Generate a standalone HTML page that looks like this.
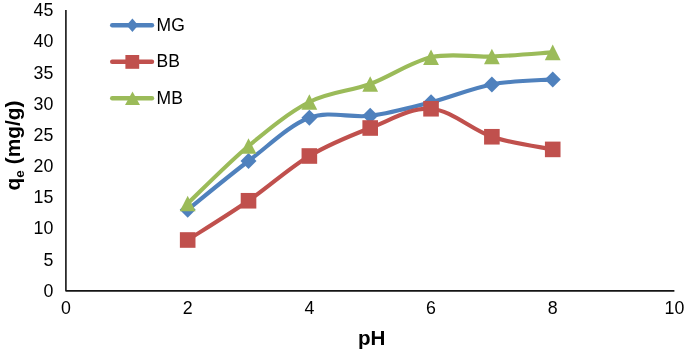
<!DOCTYPE html>
<html><head><meta charset="utf-8"><title>Chart</title>
<style>html,body{margin:0;padding:0;background:#fff}svg{display:block}</style>
</head><body>
<svg width="685" height="352" viewBox="0 0 685 352">
<rect width="685" height="352" fill="#fff"/>
<path d="M187.68,209.75 C197.82,201.62 228.24,176.33 248.52,161.00 C268.80,145.67 289.08,125.29 309.36,117.75 C329.64,110.21 349.92,118.34 370.20,115.75 C390.48,113.16 410.76,107.42 431.04,102.20 C451.32,96.98 471.60,88.20 491.88,84.40 C512.16,80.60 542.58,80.23 552.72,79.40" fill="none" stroke="#4f81bd" stroke-width="4.1" stroke-linecap="round" stroke-linejoin="round"/>
<g fill="#4f81bd"><path d="M187.68,201.75 l8,8 l-8,8 l-8,-8 z"/><path d="M248.52,153.00 l8,8 l-8,8 l-8,-8 z"/><path d="M309.36,109.75 l8,8 l-8,8 l-8,-8 z"/><path d="M370.20,107.75 l8,8 l-8,8 l-8,-8 z"/><path d="M431.04,94.20 l8,8 l-8,8 l-8,-8 z"/><path d="M491.88,76.40 l8,8 l-8,8 l-8,-8 z"/><path d="M552.72,71.40 l8,8 l-8,8 l-8,-8 z"/></g>
<path d="M187.68,240.00 C197.82,233.46 228.24,214.75 248.52,200.75 C268.80,186.75 289.08,168.12 309.36,156.00 C329.64,143.88 349.92,135.88 370.20,128.00 C390.48,120.12 410.76,107.29 431.04,108.75 C451.32,110.21 471.60,129.97 491.88,136.75 C512.16,143.53 542.58,147.29 552.72,149.40" fill="none" stroke="#c0504d" stroke-width="4.1" stroke-linecap="round" stroke-linejoin="round"/>
<g fill="#c0504d"><rect x="179.88" y="232.20" width="15.6" height="15.6"/><rect x="240.72" y="192.95" width="15.6" height="15.6"/><rect x="301.56" y="148.20" width="15.6" height="15.6"/><rect x="362.40" y="120.20" width="15.6" height="15.6"/><rect x="423.24" y="100.95" width="15.6" height="15.6"/><rect x="484.08" y="128.95" width="15.6" height="15.6"/><rect x="544.92" y="141.60" width="15.6" height="15.6"/></g>
<path d="M187.68,203.50 C197.82,193.92 228.24,162.92 248.52,146.00 C268.80,129.08 289.08,112.33 309.36,102.00 C329.64,91.67 349.92,91.46 370.20,84.00 C390.48,76.54 410.76,61.83 431.04,57.25 C451.32,52.67 471.60,57.31 491.88,56.50 C512.16,55.69 542.58,53.08 552.72,52.40" fill="none" stroke="#9bbb59" stroke-width="4.1" stroke-linecap="round" stroke-linejoin="round"/>
<g fill="#9bbb59"><path d="M187.68,195.70 l7.9,15.6 h-15.8 z"/><path d="M248.52,138.20 l7.9,15.6 h-15.8 z"/><path d="M309.36,94.20 l7.9,15.6 h-15.8 z"/><path d="M370.20,76.20 l7.9,15.6 h-15.8 z"/><path d="M431.04,49.45 l7.9,15.6 h-15.8 z"/><path d="M491.88,48.70 l7.9,15.6 h-15.8 z"/><path d="M552.72,44.60 l7.9,15.6 h-15.8 z"/></g>
<path d="M65.9,10.1 V290.85 H674.4" fill="none" stroke="#141414" stroke-width="1.6" stroke-linejoin="round"/>
<g font-family="'Liberation Sans', Arial, sans-serif" font-size="17.8" fill="#000">
<text x="53.4" y="296.70" text-anchor="end">0</text>
<text x="53.4" y="265.53" text-anchor="end">5</text>
<text x="53.4" y="234.36" text-anchor="end">10</text>
<text x="53.4" y="203.19" text-anchor="end">15</text>
<text x="53.4" y="172.02" text-anchor="end">20</text>
<text x="53.4" y="140.85" text-anchor="end">25</text>
<text x="53.4" y="109.68" text-anchor="end">30</text>
<text x="53.4" y="78.51" text-anchor="end">35</text>
<text x="53.4" y="47.34" text-anchor="end">40</text>
<text x="53.4" y="16.17" text-anchor="end">45</text>
<text x="66.00" y="313.6" text-anchor="middle">0</text>
<text x="187.68" y="313.6" text-anchor="middle">2</text>
<text x="309.36" y="313.6" text-anchor="middle">4</text>
<text x="431.04" y="313.6" text-anchor="middle">6</text>
<text x="552.72" y="313.6" text-anchor="middle">8</text>
<text x="674.40" y="313.6" text-anchor="middle">10</text>
<text x="156.6" y="30.80" font-size="17.5">MG</text>
<text x="156.6" y="67.40" font-size="17.5">BB</text>
<text x="156.6" y="103.90" font-size="17.5">MB</text>
</g>
<path d="M112.2,25.20 H152" stroke="#4f81bd" stroke-width="4.4" stroke-linecap="round"/>
<path d="M112.2,61.80 H152" stroke="#c0504d" stroke-width="4.4" stroke-linecap="round"/>
<path d="M112.2,98.30 H152" stroke="#9bbb59" stroke-width="4.4" stroke-linecap="round"/>
<path d="M132.4,18.5 l5.8,6.7 l-5.8,6.9 l-5.8,-6.9 z" fill="#4f81bd"/>
<rect x="125.4" y="55" width="13.8" height="13.8" fill="#c0504d"/>
<path d="M132.5,91.6 l7.5,13.4 h-15 z" fill="#9bbb59"/>
<text x="371.7" y="344.6" text-anchor="middle" font-family="'Liberation Sans', Arial, sans-serif" font-weight="bold" font-size="20.6" fill="#000">pH</text>
<text transform="translate(20.2,190.4) rotate(-90)" font-family="'Liberation Sans', Arial, sans-serif" font-weight="bold" font-size="20.9" fill="#000">q<tspan font-size="13.5" dy="4">e</tspan><tspan dy="-4"> (mg/g)</tspan></text>
</svg>
</body></html>
